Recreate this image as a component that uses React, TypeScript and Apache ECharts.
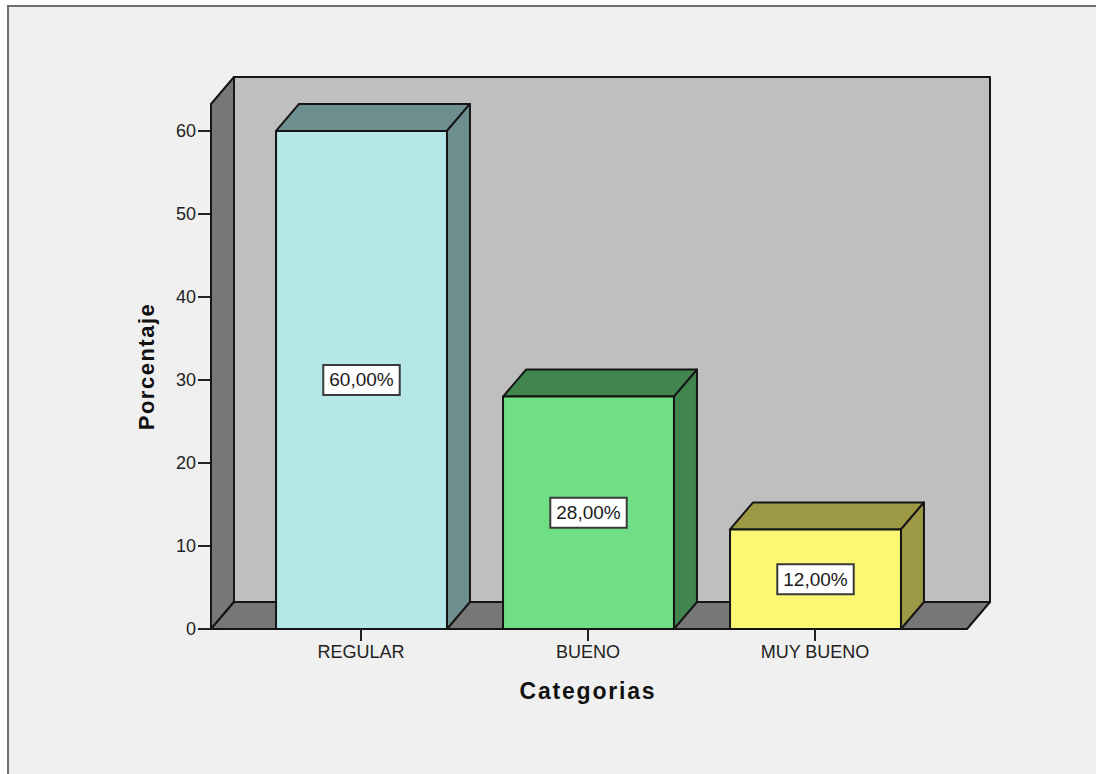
import React, { useEffect, useRef } from "react";
import * as echarts from "echarts";

const categories = ["REGULAR", "BUENO", "MUY BUENO"];
const percentages = [60, 28, 12];
const frontColors = ["#B5E7E8", "#70DE84", "#FCF873"];
const shadeColors = ["#6E8F90", "#41854F", "#9C9843"];
const yTicks = [0, 10, 20, 30, 40, 50, 60];
const yMax = 63.25;

// Oblique projection used for every box in the chart.
const DEPTH_X = 23;
const DEPTH_Y = 27;
const AXIS_OVERHANG = 36.5;
const AXIS_RUN = 756;
const BAR_NUDGE = 0.5;
const LINE = "#151515";
const FONT = '"Liberation Sans", Arial, sans-serif';

const formatPercent = (v: number) => v.toFixed(2).replace(".", ",") + "%";

function renderWalls(params: any) {
  const g = params.coordSys;
  const left = g.x - AXIS_OVERHANG;
  const right = left + AXIS_RUN;
  const top = g.y;
  const bottom = g.y + g.height;
  const style = { stroke: LINE, lineWidth: 2, lineJoin: "round" };
  return {
    type: "group",
    children: [
      {
        type: "polygon",
        shape: {
          points: [
            [left + DEPTH_X, top - DEPTH_Y],
            [right + DEPTH_X, top - DEPTH_Y],
            [right + DEPTH_X, bottom - DEPTH_Y],
            [left + DEPTH_X, bottom - DEPTH_Y],
          ],
        },
        style: { ...style, fill: "#BFBFBF" },
      },
      {
        type: "polygon",
        shape: {
          points: [
            [left, top],
            [left + DEPTH_X, top - DEPTH_Y],
            [left + DEPTH_X, bottom - DEPTH_Y],
            [left, bottom],
          ],
        },
        style: { ...style, fill: "#777777" },
      },
      {
        type: "polygon",
        shape: {
          points: [
            [left, bottom],
            [left + DEPTH_X, bottom - DEPTH_Y],
            [right + DEPTH_X, bottom - DEPTH_Y],
            [right, bottom],
          ],
        },
        style: { ...style, fill: "#777777" },
      },
    ],
  };
}

function renderBar(params: any, api: any) {
  const index = api.value(0);
  const value = api.value(1);
  const [x0, yTop] = api.coord([index, value]);
  const [, yBase] = api.coord([index, 0]);
  const cx = x0 + BAR_NUDGE;
  const half = (api.size([1, 0])[0] * 0.753) / 2;
  const l = cx - half;
  const r = cx + half;
  const style = { stroke: LINE, lineWidth: 2, lineJoin: "round" };
  return {
    type: "group",
    children: [
      {
        type: "polygon",
        shape: {
          points: [
            [l, yTop],
            [l + DEPTH_X, yTop - DEPTH_Y],
            [r + DEPTH_X, yTop - DEPTH_Y],
            [r, yTop],
          ],
        },
        style: { ...style, fill: shadeColors[index] },
      },
      {
        type: "polygon",
        shape: {
          points: [
            [r, yTop],
            [r + DEPTH_X, yTop - DEPTH_Y],
            [r + DEPTH_X, yBase - DEPTH_Y],
            [r, yBase],
          ],
        },
        style: { ...style, fill: shadeColors[index] },
      },
      {
        type: "rect",
        shape: { x: l, y: yTop, width: r - l, height: yBase - yTop },
        style: { ...style, fill: frontColors[index] },
      },
      {
        type: "text",
        x: cx,
        y: (yTop + yBase) / 2,
        style: {
          text: formatPercent(value),
          align: "center",
          verticalAlign: "middle",
          fill: "#1A1A1A",
          font: `19px ${FONT}`,
          backgroundColor: "#FFFFFF",
          borderColor: "#3A3A3A",
          borderWidth: 2,
          padding: [5, 5, 4, 5],
        },
      },
    ],
  };
}

export default function App() {
  const ref = useRef<HTMLDivElement>(null);

  useEffect(() => {
    const chart = echarts.init(ref.current!, undefined, { renderer: "svg" });
    chart.setOption({
      animation: false,
      backgroundColor: "#FFFFFF",
      graphic: [
        {
          type: "rect",
          silent: true,
          z: -10,
          shape: { x: 8, y: 6, width: 1100, height: 780 },
          style: { fill: "#F0F0F0", stroke: "#6E6E6E", lineWidth: 2 },
        },
      ],
      grid: { left: 247.5, width: 681, top: 104, height: 525 },
      xAxis: {
        type: "category",
        data: categories,
        name: "Categorias",
        nameLocation: "middle",
        nameGap: 50,
        nameTextStyle: { fontFamily: FONT, fontSize: 23, fontWeight: "bold", color: "#111" },
        axisLine: { show: false },
        axisTick: { show: true, alignWithLabel: true, length: 12, lineStyle: { color: "#222", width: 2 } },
        axisLabel: { fontFamily: FONT, fontSize: 18, color: "#222", margin: 14 },
      },
      yAxis: {
        type: "value",
        min: 0,
        max: yMax,
        offset: AXIS_OVERHANG,
        name: "Porcentaje",
        nameLocation: "middle",
        nameGap: 54,
        nameTextStyle: { fontFamily: FONT, fontSize: 22, fontWeight: "bold", color: "#111" },
        splitLine: { show: false },
        axisLine: { show: true, lineStyle: { color: LINE, width: 2 } },
        axisTick: { show: true, length: 13, customValues: yTicks, lineStyle: { color: "#222", width: 2 } },
        axisLabel: { fontFamily: FONT, fontSize: 18, color: "#222", margin: 15, customValues: yTicks },
      },
      series: [
        {
          type: "custom",
          renderItem: renderWalls,
          data: [[0, 0]],
          clip: false,
          silent: true,
          z: 1,
        },
        {
          type: "custom",
          renderItem: renderBar,
          data: percentages.map((v, i) => [i, v]),
          encode: { x: 0, y: 1 },
          clip: false,
          silent: true,
          z: 2,
        },
      ],
    });
    return () => chart.dispose();
  }, []);

  return (
    <>
      {/* Axis titles are the only bold texts; they are tracked out a little. */}
      <style>{`
        text[style*="bold"][style*="23px"] { letter-spacing: 1.8px; }
        text[style*="bold"][style*="22px"] { letter-spacing: 1.5px; }
      `}</style>
      <div ref={ref} style={{ position: "fixed", left: 0, top: 0, width: 1096, height: 774 }} />
    </>
  );
}
